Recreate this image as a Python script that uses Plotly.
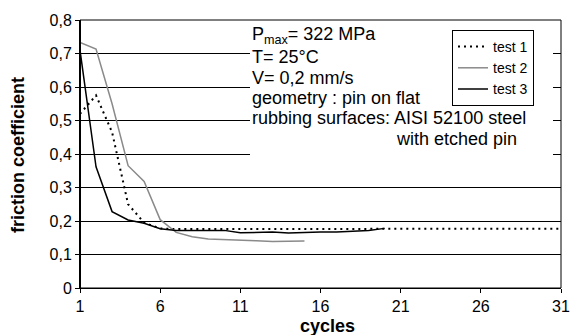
import plotly.graph_objects as go

# ---- data ----
test1_x = list(range(1, 32))
test1_y = [0.52, 0.575, 0.465, 0.25, 0.195, 0.178, 0.176, 0.176, 0.176, 0.177, 0.177,
           0.177, 0.177, 0.177, 0.177, 0.177, 0.177, 0.177, 0.177, 0.178, 0.178, 0.178,
           0.178, 0.178, 0.177, 0.177, 0.177, 0.177, 0.177, 0.177, 0.177]
test2_x = list(range(1, 16))
test2_y = [0.733, 0.713, 0.55, 0.365, 0.318, 0.204, 0.166, 0.153, 0.146, 0.145, 0.143,
           0.141, 0.139, 0.139, 0.14]
test3_x = list(range(1, 21))
test3_y = [0.71, 0.362, 0.228, 0.203, 0.193, 0.177, 0.172, 0.172, 0.17, 0.172, 0.165,
           0.166, 0.167, 0.164, 0.166, 0.167, 0.167, 0.17, 0.172, 0.178]

series_names = ["test 1", "test 2", "test 3"]
x_ticks = [1, 6, 11, 16, 21, 26, 31]
y_ticks = [0, 0.1, 0.2, 0.3, 0.4, 0.5, 0.6, 0.7, 0.8]
x_title = "cycles"
y_title = "friction coefficient"
info_lines = ["P<sub>max</sub>= 322 MPa", "T= 25°C", "V= 0,2 mm/s",
              "geometry : pin on flat", "rubbing surfaces: AISI 52100 steel"]
info_last = "with etched pin"

FONT = "Arial, Liberation Sans, Helvetica, sans-serif"

fig = go.Figure()
fig.add_trace(go.Scatter(x=test1_x, y=test1_y, mode="lines", name=series_names[0],
                         line=dict(color="black", width=2, dash="2px,4px")))
fig.add_trace(go.Scatter(x=test2_x, y=test2_y, mode="lines", name=series_names[1],
                         line=dict(color="#8a8a8a", width=1.5)))
fig.add_trace(go.Scatter(x=test3_x, y=test3_y, mode="lines", name=series_names[2],
                         line=dict(color="black", width=1.5)))

W, H = 571, 335
PL, PR, PT, PB = 80, 561, 20, 288          # plot area in page pixels
L, R, T, B = PL, W - PR, PT, H - PB
pw, ph = PR - PL, PB - PT

def px(xp):
    return (xp - PL) / pw

def py(yp):
    return (PB - yp) / ph

# white panel behind the info text (covers gridlines)
fig.add_shape(type="rect", xref="paper", yref="paper",
              x0=px(250), x1=px(553), y0=py(160), y1=1,
              fillcolor="white", line=dict(width=0), layer="above")
# plot frame
fig.add_shape(type="rect", xref="paper", yref="paper", x0=0, x1=1, y0=0, y1=1,
              line=dict(color="black", width=1), layer="above")
# thicker left axis
fig.add_shape(type="line", xref="paper", yref="paper", x0=0, x1=0, y0=0, y1=1,
              line=dict(color="black", width=2), layer="above")

line_y = [35, 57, 78, 98, 118]
for txt, yy in zip(info_lines, line_y):
    fig.add_annotation(text=txt, xref="paper", yref="paper", x=px(250), y=py(yy),
                       xanchor="left", yanchor="middle", showarrow=False,
                       font=dict(size=18, color="black", family=FONT))
fig.add_annotation(text=info_last, xref="paper", yref="paper", x=px(394), y=py(139),
                   xanchor="left", yanchor="middle", showarrow=False,
                   font=dict(size=18, color="black", family=FONT))

# axis titles
fig.add_annotation(text="<b>" + x_title + "</b>", xref="paper", yref="paper",
                   x=px(327), y=py(326), xanchor="center", yanchor="middle",
                   showarrow=False, font=dict(size=18, color="black", family=FONT))
fig.add_annotation(text="<b>" + y_title + "</b>", xref="paper", yref="paper",
                   x=px(18), y=py(155), xanchor="center", yanchor="middle",
                   textangle=-90, showarrow=False,
                   font=dict(size=18, color="black", family=FONT))

fig.update_layout(
    width=W, height=H,
    margin=dict(l=L, r=R, t=T, b=B),
    paper_bgcolor="white", plot_bgcolor="white",
    separators=", ",
    font=dict(family=FONT, color="black", size=16),
    legend=dict(x=px(452), y=py(30), xanchor="left", yanchor="top",
                bgcolor="white", bordercolor="black", borderwidth=1,
                font=dict(size=14, family=FONT, color="black"),
                tracegroupgap=0, itemwidth=30),
    xaxis=dict(range=[1, 31], tickvals=x_ticks, ticks="outside", ticklen=4,
               tickcolor="black", showgrid=False, zeroline=False,
               showline=True, linecolor="black", linewidth=1,
               tickfont=dict(size=16), automargin=False,
               ticklabeloverflow="allow"),
    yaxis=dict(range=[0, 0.8], tickvals=y_ticks, ticks="outside", ticklen=4,
               tickcolor="black", showgrid=True, gridcolor="black", gridwidth=1,
               zeroline=False, showline=True, linecolor="black", linewidth=1,
               tickfont=dict(size=16), automargin=False,
               ticklabeloverflow="allow"),
)

fig.write_html(
    "out.html",
    config={"displayModeBar": False},
    post_script="document.body.style.margin='0';document.body.style.overflow='hidden';",
)
